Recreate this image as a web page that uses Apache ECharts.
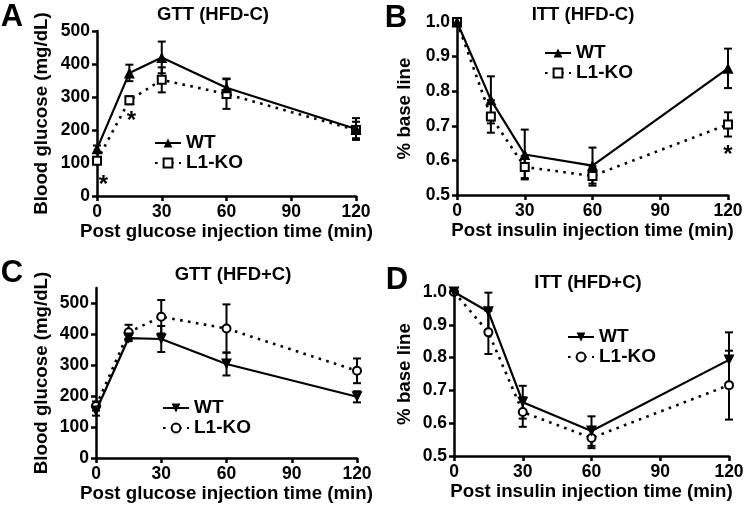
<!DOCTYPE html>
<html>
<head>
<meta charset="utf-8">
<script src="https://cdn.jsdelivr.net/npm/echarts@6/dist/echarts.min.js"></script>
<style>
html,body{margin:0;padding:0;background:#fff;}
#chart{width:749px;height:510px;}
</style>
</head>
<body>
<div id="chart"></div>
<script>
// ---- data ----
const xVals = [0, 15, 30, 60, 120];
const xTicks = [0, 30, 60, 90, 120];

const aWT = [143, 373, 420, 328, 203];
const aWTerr = [10, 25, 48, 28, 33];
const aKO = [107, 290, 352, 309, 200];
const aKOerr = [10, 12, 38, 45, 25];

const bWT = [1.0, 0.775, 0.617, 0.585, 0.866];
const bWTerr = [0, 0.068, 0.072, 0.052, 0.057];
const bKO = [1.0, 0.727, 0.581, 0.555, 0.704];
const bKOerr = [0, 0.047, 0.032, 0.028, 0.035];

const cWT = [152, 388, 385, 304, 198];
const cWTerr = [15, 10, 42, 37, 18];
const cKO = [168, 407, 457, 419, 282];
const cKOerr = [15, 24, 54, 78, 40];

const dWT = [1.0, 0.94, 0.664, 0.576, 0.793];
const dWTerr = [0, 0.058, 0.05, 0.045, 0.084];
const dKO = [1.0, 0.877, 0.634, 0.555, 0.716];
const dKOerr = [0, 0.066, 0.045, 0.031, 0.105];

const glucoseTicks = [0, 100, 200, 300, 400, 500];
const baseTicks = [0.5, 0.6, 0.7, 0.8, 0.9, 1.0];

const starsA = [[3, 48], [16, 240]];
const starsB = [[120, 0.63]];

const panelTitles = ['GTT (HFD-C)', 'ITT (HFD-C)', 'GTT (HFD+C)', 'ITT (HFD+C)'];
const panelLetters = ['A', 'B', 'C', 'D'];
const xNames = ['Post glucose injection time (min)', 'Post insulin injection time (min)',
                'Post glucose injection time (min)', 'Post insulin injection time (min)'];
const yNames = ['Blood glucose (mg/dL)', '% base line', 'Blood glucose (mg/dL)', '% base line'];
const seriesNames = ['WT', 'L1-KO'];

// ---- build ----
const FONT = "'Liberation Sans', Arial, sans-serif";
const pts = (ys) => xVals.map((x, i) => [x, ys[i]]);
const errPts = (ys, es) => xVals.map((x, i) => [x, ys[i], es[i]]);

const grids = [
  {left: 97, top: 31, width: 259, height: 165},
  {left: 457, top: 22, width: 271, height: 173},
  {left: 96, top: 288, width: 261, height: 170},
  {left: 454, top: 292, width: 275, height: 164}
];

const yCfg = [
  {min: 0, max: 500, interval: 100, ticks: glucoseTicks, fmt: v => String(v), gap: 46},
  {min: 0.5, max: 1.0, interval: 0.1, ticks: baseTicks, fmt: v => Number(v).toFixed(1), gap: 43},
  {min: 0, max: 550, interval: 100, ticks: glucoseTicks, fmt: v => String(v), gap: 45},
  {min: 0.5, max: 1.0, interval: 0.1, ticks: baseTicks, fmt: v => Number(v).toFixed(1), gap: 40}
];
const xGaps = [25, 26, 18, 23];

const axisLine = {show: true, onZero: false, lineStyle: {color: '#000', width: 2.5}};
const axisTick = {show: true, inside: false, length: 5, lineStyle: {color: '#000', width: 2.5}};
const tickStyle = {color: '#000', fontFamily: FONT, fontWeight: 'bold', fontSize: 17.5};
const nameStyle = {color: '#000', fontFamily: FONT, fontWeight: 'bold', fontSize: 18.7};

const xAxis = grids.map((g, i) => ({
  type: 'value', gridIndex: i, min: 0, max: 120, interval: 30,
  axisLine, axisTick: Object.assign({customValues: xTicks}, axisTick),
  axisLabel: Object.assign({margin: 7, customValues: xTicks}, tickStyle),
  splitLine: {show: false},
  name: xNames[i], nameLocation: 'middle', nameGap: xGaps[i],
  nameTextStyle: nameStyle
}));

const yAxis = yCfg.map((c, i) => ({
  type: 'value', gridIndex: i, min: c.min, max: c.max, interval: c.interval,
  axisLine, axisTick: Object.assign({customValues: c.ticks}, axisTick),
  axisLabel: Object.assign({margin: 7, customValues: c.ticks, formatter: c.fmt}, tickStyle),
  splitLine: {show: false},
  name: yNames[i], nameLocation: 'middle', nameGap: c.gap, nameRotate: 90,
  nameTextStyle: nameStyle
}));

function errSeries(idx, data) {
  return {
    type: 'custom', xAxisIndex: idx, yAxisIndex: idx, clip: false, z: 1,
    silent: true,
    data: data,
    renderItem: function (params, api) {
      const e = api.value(2);
      if (!e) return null;
      const x = api.value(0), y = api.value(1);
      const top = api.coord([x, y + e]);
      const bot = api.coord([x, y - e]);
      const w = 4;
      const st = {stroke: '#000', lineWidth: 2};
      return {
        type: 'group',
        children: [
          {type: 'line', shape: {x1: top[0], y1: top[1], x2: bot[0], y2: bot[1]}, style: st},
          {type: 'line', shape: {x1: top[0] - w, y1: top[1], x2: top[0] + w, y2: top[1]}, style: st},
          {type: 'line', shape: {x1: bot[0] - w, y1: bot[1], x2: bot[0] + w, y2: bot[1]}, style: st}
        ]
      };
    }
  };
}

function wtSeries(idx, ys, down) {
  return {
    name: panelLetters[idx] + '|' + seriesNames[0],
    type: 'line', xAxisIndex: idx, yAxisIndex: idx, z: 3,
    data: pts(ys), symbol: 'triangle', symbolSize: 11, symbolRotate: down ? 180 : 0,
    showAllSymbol: true,
    lineStyle: {color: '#000', width: 2.2, type: 'solid'},
    itemStyle: {color: '#000', borderColor: '#000', borderWidth: 0},
    emphasis: {disabled: true}, animation: false
  };
}
function koSeries(idx, ys, circle) {
  return {
    name: panelLetters[idx] + '|' + seriesNames[1],
    type: 'line', xAxisIndex: idx, yAxisIndex: idx, z: 2,
    data: pts(ys), symbol: circle ? 'circle' : 'rect', symbolSize: 8,
    showAllSymbol: true,
    lineStyle: {color: '#000', width: 2.6, type: [2.6, 5.4], cap: 'butt'},
    itemStyle: {color: '#fff', borderColor: '#000', borderWidth: 2},
    emphasis: {disabled: true}, animation: false
  };
}
function starSeries(idx, data) {
  return {
    type: 'custom', xAxisIndex: idx, yAxisIndex: idx, data: data, clip: false, z: 5,
    silent: true,
    renderItem: function (params, api) {
      const p = api.coord([api.value(0), api.value(1)]);
      return {
        type: 'text', x: p[0], y: p[1] + 5,
        style: {text: '*', fill: '#000', font: 'bold 24px ' + FONT, align: 'center', verticalAlign: 'middle'}
      };
    }
  };
}

const series = [
  errSeries(0, errPts(aWT, aWTerr)), errSeries(0, errPts(aKO, aKOerr)),
  wtSeries(0, aWT, false), koSeries(0, aKO, false), starSeries(0, starsA),
  errSeries(1, errPts(bWT, bWTerr)), errSeries(1, errPts(bKO, bKOerr)),
  wtSeries(1, bWT, false), koSeries(1, bKO, false), starSeries(1, starsB),
  errSeries(2, errPts(cWT, cWTerr)), errSeries(2, errPts(cKO, cKOerr)),
  wtSeries(2, cWT, true), koSeries(2, cKO, true),
  errSeries(3, errPts(dWT, dWTerr)), errSeries(3, errPts(dKO, dKOerr)),
  wtSeries(3, dWT, true), koSeries(3, dKO, true)
];

const legendPos = [[154, 133], [544, 43], [162, 398], [567, 327]];
const legend = legendPos.map((p, i) => ({
  left: p[0], top: p[1], orient: 'vertical', itemGap: 0, padding: 0,
  itemWidth: 26, itemHeight: 11, selectedMode: false,
  data: seriesNames.map(n => panelLetters[i] + '|' + n),
  formatter: n => n.split('|')[1],
  textStyle: {color: '#000', fontFamily: FONT, fontWeight: 'bold', fontSize: 19, lineHeight: 20}
}));

const titlePos = [[213, 15], [583, 15], [233, 275], [588, 283]];
const letterPos = [[12, 17], [396, 18], [12, 273], [397, 280]];
const title = [];
titlePos.forEach((p, i) => title.push({
  text: panelTitles[i], left: p[0], top: p[1], textAlign: 'center', textVerticalAlign: 'middle',
  padding: 0,
  textStyle: {color: '#000', fontFamily: FONT, fontWeight: 'bold', fontSize: 18.5}
}));
letterPos.forEach((p, i) => title.push({
  text: panelLetters[i], left: p[0], top: p[1], textAlign: 'center', textVerticalAlign: 'middle',
  padding: 0,
  textStyle: {color: '#000', fontFamily: FONT, fontWeight: 'bold', fontSize: 31}
}));

const chart = echarts.init(document.getElementById('chart'), null, {renderer: 'canvas'});
chart.setOption({
  animation: false,
  backgroundColor: '#fff',
  title, legend, grid: grids, xAxis, yAxis, series
});
</script>
</body>
</html>
